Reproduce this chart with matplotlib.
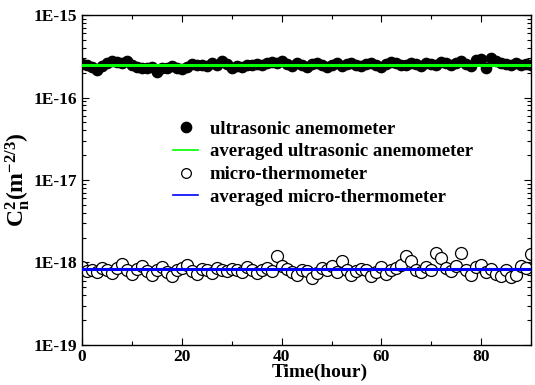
import numpy as np
import matplotlib
matplotlib.use("Agg")
import matplotlib.pyplot as plt
from matplotlib.lines import Line2D
from matplotlib.ticker import FixedLocator, LogLocator, NullFormatter, MultipleLocator

plt.rcParams['font.family'] = ['Liberation Serif', 'DejaVu Serif']
plt.rcParams['font.weight'] = 'bold'
plt.rcParams['mathtext.fontset'] = 'custom'
plt.rcParams['mathtext.rm'] = 'Liberation Serif:bold'
plt.rcParams['mathtext.it'] = 'Liberation Serif:bold'
plt.rcParams['mathtext.bf'] = 'Liberation Serif:bold'

# hourly samples, 0..90 h
hours = np.arange(0, 91)

# ultrasonic anemometer Cn2, in units of 1E-16
ultrasonic = [
    2.55, 2.45, 2.35, 2.15, 2.40, 2.65, 2.75, 2.70, 2.60, 2.75,
    2.50, 2.35, 2.30, 2.25, 2.35, 2.05, 2.30, 2.25, 2.40, 2.30,
    2.20, 2.35, 2.55, 2.45, 2.50, 2.40, 2.60, 2.45, 2.80, 2.55,
    2.25, 2.40, 2.35, 2.50, 2.45, 2.55, 2.45, 2.60, 2.70, 2.65,
    2.75, 2.55, 2.40, 2.60, 2.50, 2.35, 2.55, 2.60, 2.45, 2.35,
    2.50, 2.60, 2.40, 2.55, 2.65, 2.50, 2.40, 2.55, 2.65, 2.45,
    2.35, 2.55, 2.70, 2.60, 2.50, 2.45, 2.65, 2.55, 2.40, 2.60,
    2.55, 2.45, 2.70, 2.60, 2.50, 2.65, 2.75, 2.55, 2.40, 2.85,
    2.95, 2.30, 3.05, 2.80, 2.65, 2.55, 2.50, 2.60, 2.45, 2.55,
    2.50]

# micro-thermometer Cn2, in units of 1E-18
micro = [
    0.88, 0.78, 0.82, 0.76, 0.85, 0.80, 0.74, 0.86, 0.95, 0.80,
    0.72, 0.84, 0.90, 0.78, 0.70, 0.82, 0.88, 0.76, 0.68, 0.80,
    0.86, 0.92, 0.78, 0.72, 0.84, 0.80, 0.74, 0.86, 0.82, 0.78,
    0.84, 0.80, 0.76, 0.88, 0.82, 0.74, 0.80, 0.86, 0.78, 1.20,
    0.90, 0.84, 0.76, 0.70, 0.82, 0.78, 0.65, 0.74, 0.86, 0.80,
    0.90, 0.76, 1.05, 0.82, 0.70, 0.78, 0.84, 0.80, 0.68, 0.76,
    0.88, 0.72, 0.80, 0.86, 0.92, 1.20, 1.05, 0.82, 0.76, 0.88,
    0.80, 1.30, 1.12, 0.86, 0.78, 0.90, 1.30, 0.82, 0.70, 0.88,
    0.92, 0.76, 0.84, 0.72, 0.68, 0.80, 0.66, 0.70, 0.90, 0.86,
    1.25]

avg_ultrasonic = 2.45e-16
avg_micro = 8.3e-19

y_ticks = [1e-19, 1e-18, 1e-17, 1e-16, 1e-15]
y_labels = ['1E-19', '1E-18', '1E-17', '1E-16', '1E-15']

fig = plt.figure(figsize=(5.35, 3.85), dpi=100)
ax = fig.add_axes([0.153, 0.104, 0.840, 0.857])

ax.plot(hours, np.array(ultrasonic) * 1e-16, 'o', color='black', ms=7.4,
        mec='black', zorder=2)
ax.plot(hours, np.array(micro) * 1e-18, 'o', mfc='white', mec='black',
        ms=8.6, mew=0.9, zorder=2)
ax.plot([hours[0], hours[-1]], [avg_ultrasonic, avg_ultrasonic],
        color='#00ff00', lw=2.2, zorder=3)
ax.plot([hours[0], hours[-1]], [avg_micro, avg_micro],
        color='#0000ff', lw=2.2, zorder=3)

ax.set_yscale('log')
ax.set_ylim(1e-19, 1e-15)
ax.set_xlim(0, 90)
ax.yaxis.set_major_locator(FixedLocator(y_ticks))
ax.set_yticklabels(y_labels)
ax.yaxis.set_minor_locator(LogLocator(base=10, subs=np.arange(2, 10)))
ax.yaxis.set_minor_formatter(NullFormatter())
ax.xaxis.set_major_locator(MultipleLocator(20))
ax.xaxis.set_minor_locator(MultipleLocator(10))

ax.tick_params(which='both', direction='in', top=True, right=True,
               labelsize=12.5, width=0.8)
ax.tick_params(which='major', length=5)
ax.tick_params(which='minor', length=3)
ax.tick_params(axis='x', pad=3)
for s in ax.spines.values():
    s.set_linewidth(1.0)

ax.set_xlabel('Time(hour)', fontsize=14, fontweight='bold')
ax.xaxis.set_label_coords(0.53, -0.058)
ax.set_ylabel(r'C$_n^2$(m$^{-2/3}$)', fontsize=17, fontweight='bold')
ax.yaxis.set_label_coords(-0.112, 0.5)

handles = [
    Line2D([], [], ls='none', marker='o', color='black', ms=7.4),
    Line2D([], [], color='#00ff00', lw=1.2),
    Line2D([], [], ls='none', marker='o', mfc='white', mec='black', ms=7, mew=0.9),
    Line2D([], [], color='#0000ff', lw=1.2),
]
labels = ['ultrasonic anemometer', 'averaged ultrasonic anemometer',
          'micro-thermometer', 'averaged micro-thermometer']
ax.legend(handles, labels, loc='upper left', bbox_to_anchor=(0.203, 0.68),
          frameon=False, prop={'size': 13.5, 'weight': 'bold'},
          handlelength=1.35, handletextpad=0.6, labelspacing=0.3,
          borderaxespad=0, borderpad=0)

fig.savefig('out.png', dpi=100)
